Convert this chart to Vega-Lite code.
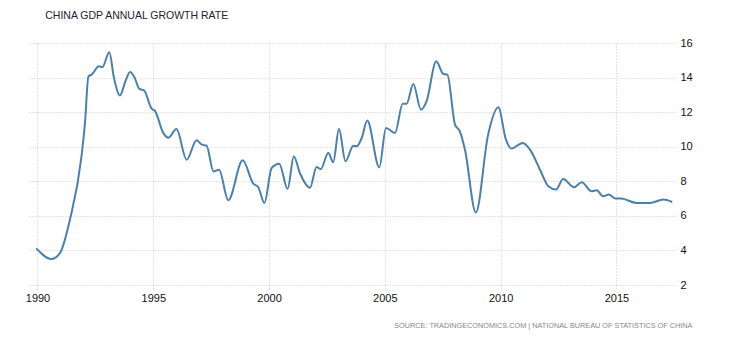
{
  "$schema": "https://vega.github.io/schema/vega-lite/v6.json",
  "width": 647,
  "height": 242,
  "autosize": "none",
  "padding": {"left": 28, "top": 43, "right": 55, "bottom": 55},
  "background": "white",
  "title": {
    "text": "CHINA GDP ANNUAL GROWTH RATE",
    "anchor": "start",
    "dx": 20,
    "offset": 16,
    "font": "Liberation Sans",
    "fontSize": 10.5,
    "fontWeight": "normal",
    "color": "#222233"
  },
  "config": {
    "view": {"stroke": null},
    "axis": {
      "gridColor": "#c8c8c8",
      "gridDash": [1, 2],
      "gridWidth": 1,
      "domain": false,
      "labelFont": "Liberation Sans",
      "labelFontSize": 11,
      "labelColor": "#111111"
    }
  },
  "data": {
    "values": [
      {"year": 1989.95, "growth": 4.12},
      {"year": 1990.6, "growth": 3.5},
      {"year": 1990.97, "growth": 3.85},
      {"year": 1991.4, "growth": 5.78},
      {"year": 1991.9, "growth": 9.44},
      {"year": 1992.05, "growth": 11.37},
      {"year": 1992.2, "growth": 14.07},
      {"year": 1992.34, "growth": 14.17},
      {"year": 1992.65, "growth": 14.65},
      {"year": 1992.8, "growth": 14.6},
      {"year": 1993.1, "growth": 15.46},
      {"year": 1993.3, "growth": 14.0},
      {"year": 1993.56, "growth": 12.97},
      {"year": 1993.8, "growth": 13.8},
      {"year": 1994.0, "growth": 14.32},
      {"year": 1994.2, "growth": 13.98},
      {"year": 1994.4, "growth": 13.34},
      {"year": 1994.6, "growth": 13.26},
      {"year": 1994.93, "growth": 12.2},
      {"year": 1995.07, "growth": 12.08},
      {"year": 1995.43, "growth": 10.8},
      {"year": 1995.65, "growth": 10.52},
      {"year": 1996.0, "growth": 11.02},
      {"year": 1996.44, "growth": 9.25},
      {"year": 1996.87, "growth": 10.37},
      {"year": 1997.1, "growth": 10.12},
      {"year": 1997.3, "growth": 10.06},
      {"year": 1997.6, "growth": 8.57},
      {"year": 1997.84, "growth": 8.67},
      {"year": 1998.24, "growth": 6.9},
      {"year": 1998.86, "growth": 9.21},
      {"year": 1999.32, "growth": 7.86},
      {"year": 1999.53, "growth": 7.67},
      {"year": 1999.8, "growth": 6.75},
      {"year": 2000.11, "growth": 8.77},
      {"year": 2000.44, "growth": 9.02},
      {"year": 2000.8, "growth": 7.56},
      {"year": 2001.07, "growth": 9.44},
      {"year": 2001.33, "growth": 8.48},
      {"year": 2001.77, "growth": 7.63},
      {"year": 2002.05, "growth": 8.83},
      {"year": 2002.23, "growth": 8.71},
      {"year": 2002.56, "growth": 9.64},
      {"year": 2002.77, "growth": 9.1},
      {"year": 2003.02, "growth": 11.02},
      {"year": 2003.3, "growth": 9.16},
      {"year": 2003.64, "growth": 10.06},
      {"year": 2003.78, "growth": 10.02},
      {"year": 2004.0, "growth": 10.5},
      {"year": 2004.24, "growth": 11.52},
      {"year": 2004.76, "growth": 8.8},
      {"year": 2005.05, "growth": 11.08},
      {"year": 2005.44, "growth": 10.8},
      {"year": 2005.77, "growth": 12.49},
      {"year": 2005.94, "growth": 12.49},
      {"year": 2006.23, "growth": 13.63},
      {"year": 2006.56, "growth": 12.14},
      {"year": 2006.8, "growth": 12.62},
      {"year": 2007.22, "growth": 14.94},
      {"year": 2007.52, "growth": 14.22},
      {"year": 2007.7, "growth": 14.17},
      {"year": 2008.03, "growth": 11.28},
      {"year": 2008.24, "growth": 10.89},
      {"year": 2008.46, "growth": 9.83},
      {"year": 2008.93, "growth": 6.2},
      {"year": 2009.46, "growth": 10.7},
      {"year": 2009.9, "growth": 12.28},
      {"year": 2010.23, "growth": 10.41},
      {"year": 2010.47, "growth": 9.89},
      {"year": 2010.95, "growth": 10.22},
      {"year": 2011.27, "growth": 9.83},
      {"year": 2011.7, "growth": 8.67},
      {"year": 2012.06, "growth": 7.71},
      {"year": 2012.39, "growth": 7.52},
      {"year": 2012.7, "growth": 8.13},
      {"year": 2013.17, "growth": 7.65},
      {"year": 2013.5, "growth": 7.94},
      {"year": 2013.93, "growth": 7.42},
      {"year": 2014.15, "growth": 7.48},
      {"year": 2014.43, "growth": 7.13},
      {"year": 2014.68, "growth": 7.23},
      {"year": 2014.94, "growth": 7.01},
      {"year": 2015.22, "growth": 7.0},
      {"year": 2015.87, "growth": 6.75},
      {"year": 2016.45, "growth": 6.75},
      {"year": 2017.02, "growth": 6.94},
      {"year": 2017.41, "growth": 6.8}
    ]
  },
  "mark": {"type": "line", "interpolate": "monotone", "color": "#4a80ae", "strokeWidth": 2},
  "encoding": {
    "x": {
      "field": "year",
      "type": "quantitative",
      "scale": {"domain": [1989.59, 2017.53], "nice": false, "zero": false},
      "axis": {
        "values": [1990, 1995, 2000, 2005, 2010, 2015],
        "format": "d",
        "ticks": true,
        "tickSize": 5,
        "tickColor": "#c8c8c8",
        "tickDash": [1, 2],
        "labelPadding": 2,
        "title": "SOURCE: TRADINGECONOMICS.COM | NATIONAL BUREAU OF STATISTICS OF CHINA",
        "titleAnchor": "end",
        "titleFont": "Liberation Sans",
        "titleFontSize": 7.3,
        "titleFontWeight": "normal",
        "titleColor": "#888888",
        "titlePadding": 18,
        "titleX": 664
      }
    },
    "y": {
      "field": "growth",
      "type": "quantitative",
      "scale": {"domain": [2, 16], "nice": false, "zero": false},
      "axis": {
        "orient": "right",
        "values": [2, 4, 6, 8, 10, 12, 14, 16],
        "ticks": false,
        "labelPadding": 5,
        "title": null
      }
    }
  }
}
